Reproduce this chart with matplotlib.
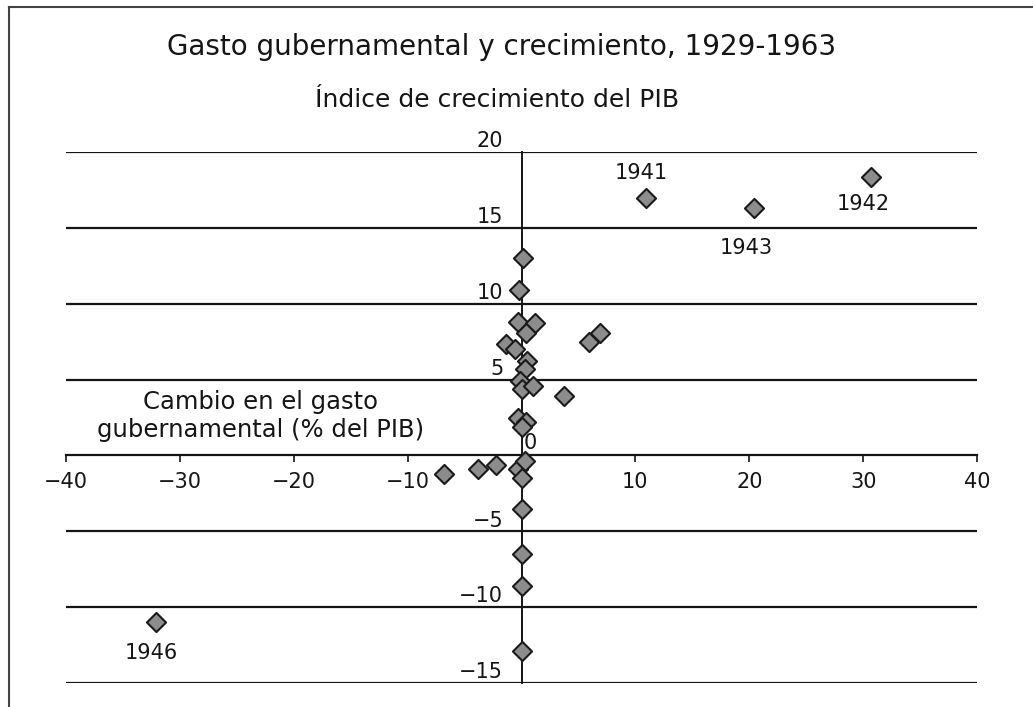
"""Gasto gubernamental y crecimiento, 1929-1963 — scatter redrawn from a scanned figure."""

import matplotlib
matplotlib.use("Agg")
import matplotlib.pyplot as plt
from matplotlib.lines import Line2D

plt.rcParams["font.family"] = ["DejaVu Sans"]

# change in government spending (% of GDP) vs GDP growth rate
GASTO = [0.1, -0.2, -0.3, 1.2, 0.4, -1.4, -0.6, 5.9, 6.9, 0.5, 0.3, -0.1, 0.0, 1.0,
         3.7, -0.3, 0.4, 0.0, -6.8, -3.8, -2.2, -0.3, 0.3, 0.0, 0.0, 0.0, 0.0, 0.0,
         10.9, 30.7, 20.4, -32.1]
CRECIMIENTO = [13.0, 10.9, 8.8, 8.7, 8.1, 7.35, 7.0, 7.5, 8.1, 6.25, 5.7, 4.9, 4.4, 4.6,
               3.9, 2.5, 2.2, 1.9, -1.2, -0.9, -0.65, -0.9, -0.4, -1.5, -3.5, -6.5, -8.6, -12.9,
               16.95, 18.35, 16.3, -11.0]

ETIQUETAS = {1941: (10.9, 16.95), 1942: (30.7, 18.35), 1943: (20.4, 16.3), 1946: (-32.1, -11.0)}
ETIQ_OFFSET = {1941: (-4, 25), 1942: (-8, -27), 1943: (-8, -40), 1946: (-5, -31)}

X_TICKS = [-40, -30, -20, -10, 10, 20, 30, 40]
Y_GRID = [20, 15, 10, 5, -5, -10, -15]
Y_LABELS = [20, 15, 10, 5, -5, -10, -15]

INK = "#151515"

fig = plt.figure(figsize=(10.33, 7.07), dpi=100)
ax = fig.add_axes([66 / 1033, 24 / 707, 911 / 1033, 531 / 707])
ax.set_xlim(-40, 40)
ax.set_ylim(-15, 20)

# horizontal rules
ax.hlines(Y_GRID, -40, 40, color=INK, linewidth=1.6, zorder=1)

# axes through origin
for side in ("top", "right"):
    ax.spines[side].set_visible(False)
ax.spines["bottom"].set_position(("data", 0))
ax.spines["left"].set_position(("data", 0))
ax.spines["bottom"].set_color(INK)
ax.spines["left"].set_color(INK)
ax.spines["bottom"].set_linewidth(1.6)
ax.spines["left"].set_linewidth(1.4)
ax.set_xticks(X_TICKS)
ax.set_xticklabels([f"\u2212{abs(t)}" if t < 0 else str(t) for t in X_TICKS])
ax.tick_params(axis="x", direction="out", length=5, width=1.2, color=INK,
               labelsize=15, labelcolor=INK, pad=7)
ax.set_yticks([])

for v in Y_LABELS:
    lab = f"\u2212{abs(v)}" if v < 0 else str(v)
    ax.text(-1.6, v + 0.05, lab, ha="right", va="bottom", fontsize=15, color=INK)
ax.text(0.15, 0.15, "0", ha="left", va="bottom", fontsize=15, color=INK)

ax.scatter(GASTO, CRECIMIENTO, marker="D", s=95, facecolor="#8c8c8c",
           edgecolor="#1a1a1a", linewidth=1.5, zorder=3, clip_on=False)

for year, (x, y) in ETIQUETAS.items():
    ax.annotate(str(year), (x, y), xytext=ETIQ_OFFSET[year], textcoords="offset pixels",
                ha="center", va="center", fontsize=15, color=INK)

ax.text(-22.9, 2.6, "Cambio en el gasto\ngubernamental (% del PIB)", ha="center",
        va="center", fontsize=17.5, color=INK, linespacing=1.2)

fig.text(502 / 1033, 1 - 47 / 707, "Gasto gubernamental y crecimiento, 1929-1963",
         ha="center", va="center", fontsize=20, color=INK)
fig.text(497 / 1033, 1 - 100 / 707, "\u00cdndice de crecimiento del PIB",
         ha="center", va="center", fontsize=18, color=INK)

# scan frame: left and top edges
fig.add_artist(Line2D([9 / 1033, 9 / 1033], [0, 1 - 7 / 707], transform=fig.transFigure,
                      color="#444444", linewidth=1.5))
fig.add_artist(Line2D([9 / 1033, 1], [1 - 7 / 707, 1 - 7 / 707], transform=fig.transFigure,
                      color="#444444", linewidth=1.5))

fig.savefig("out.png", dpi=100)
